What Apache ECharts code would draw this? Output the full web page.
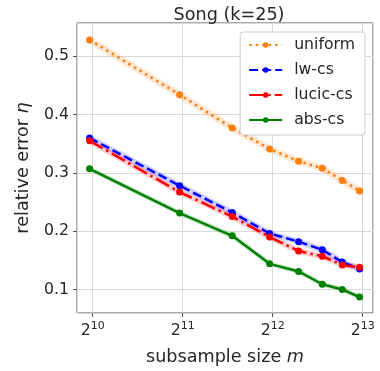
<!DOCTYPE html>
<html>
<head>
<meta charset="utf-8">
<script src="https://cdn.jsdelivr.net/npm/echarts@6/dist/echarts.min.js"></script>
<style>html,body{margin:0;padding:0;background:#fff}#c{width:380px;height:371px}</style>
</head>
<body>
<div id="c"></div>
<script>
const sizes = [1000, 2000, 3000, 4000, 5000, 6000, 7000, 8000];
const uniform = [0.528, 0.434, 0.377, 0.341, 0.320, 0.308, 0.287, 0.269];
const lwcs = [0.360, 0.278, 0.232, 0.196, 0.182, 0.168, 0.147, 0.135];
const luciccs = [0.355, 0.267, 0.225, 0.190, 0.166, 0.157, 0.142, 0.138];
const abscs = [0.307, 0.231, 0.192, 0.144, 0.131, 0.109, 0.100, 0.087];
const names = ['uniform', 'lw-cs', 'lucic-cs', 'abs-cs'];
const yTicks = [0.1, 0.2, 0.3, 0.4, 0.5];

const FONT = 'DejaVu Sans';
const TXT = '#262626';
const FS = 15.7, FL = 17.6;
const pairs = v => sizes.map((s, i) => [s, v[i]]);
const defs = [
  {name: 'uniform', data: uniform, color: '#ff7f0e', type: [2.5, 4], bw: 7},
  {name: 'lw-cs', data: lwcs, color: '#0000ff', type: [9, 4], bw: 6},
  {name: 'lucic-cs', data: luciccs, color: '#ff0000', type: [15, 4, 2.5, 4], bw: 6},
  {name: 'abs-cs', data: abscs, color: '#008000', type: 'solid', bw: 5}
];
const series = [];
defs.forEach(d => {
  series.push({
    name: d.name + '-band', type: 'line', data: pairs(d.data), symbol: 'none',
    lineStyle: {color: d.color, width: d.bw, opacity: 0.18, cap: 'round', join: 'round'},
    silent: true, z: 1
  });
});
defs.forEach(d => {
  series.push({
    name: d.name, type: 'line', data: pairs(d.data), symbol: 'circle', symbolSize: 7,
    itemStyle: {color: d.color},
    lineStyle: {color: d.color, width: 2.5, type: d.type},
    z: 3
  });
});

const chart = echarts.init(document.getElementById('c'));
chart.setOption({
  animation: false,
  textStyle: {fontFamily: FONT},
  title: {
    text: 'Song (k=25)', left: 224, top: 1, textAlign: 'center',
    textStyle: {fontFamily: FONT, fontSize: FL, fontWeight: 'normal', color: TXT}
  },
  grid: {left: 77, right: 7, top: 23, bottom: 57, show: true, borderColor: '#555', borderWidth: 1},
  legend: {
    data: names, orient: 'vertical', right: 15, top: 32,
    backgroundColor: '#fff', borderColor: '#ccc', borderWidth: 1, borderRadius: 3,
    padding: [5, 10, 7, 8], itemGap: 9, itemWidth: 33, itemHeight: 7,
    textStyle: {fontFamily: FONT, fontSize: FS, color: TXT, padding: [0, 0, 0, 7]}
  },
  xAxis: {
    type: 'log', logBase: 2, min: 907.5, max: 8866,
    name: 'subsample size {i|m}', nameLocation: 'middle', nameGap: 35,
    nameTextStyle: {fontFamily: FONT, fontSize: FL, color: TXT, rich: {i: {fontFamily: FONT, fontSize: FL, fontStyle: 'italic', color: TXT}}},
    axisLine: {show: false},
    axisTick: {show: true, length: 4, lineStyle: {color: '#555'}},
    splitLine: {show: true, lineStyle: {color: '#d9d9d9'}},
    minorTick: {show: false},
    axisLabel: {
      margin: 8, color: TXT, fontSize: FS, fontFamily: FONT,
      showMinLabel: false, showMaxLabel: false,
      formatter: v => {
        const e = Math.log2(v);
        if (Math.abs(e - Math.round(e)) > 1e-6) return '';
        return '2{s|' + Math.round(e) + '}';
      },
      rich: {s: {fontSize: 11, fontFamily: FONT, color: TXT, verticalAlign: 'bottom', padding: [0, 0, 9, 0]}}
    }
  },
  yAxis: {
    type: 'value', min: 0.0597, max: 0.557, splitNumber: 5,
    name: 'relative error {i|η}', nameLocation: 'middle', nameGap: 45, nameRotate: 90,
    nameTextStyle: {fontFamily: FONT, fontSize: FL, color: TXT, rich: {i: {fontFamily: FONT, fontSize: FL, fontStyle: 'italic', color: TXT}}},
    axisLine: {show: false},
    axisTick: {show: true, length: 4, lineStyle: {color: '#555'}},
    splitLine: {show: true, lineStyle: {color: '#d9d9d9'}},
    axisLabel: {
      margin: 8, color: TXT, fontSize: FS, fontFamily: FONT,
      showMinLabel: false, showMaxLabel: false,
      formatter: v => {
        const hit = yTicks.find(t => Math.abs(t - v) < 1e-6);
        return hit !== undefined ? hit.toFixed(1) : '';
      }
    }
  },
  series: series
});
</script>
</body>
</html>
